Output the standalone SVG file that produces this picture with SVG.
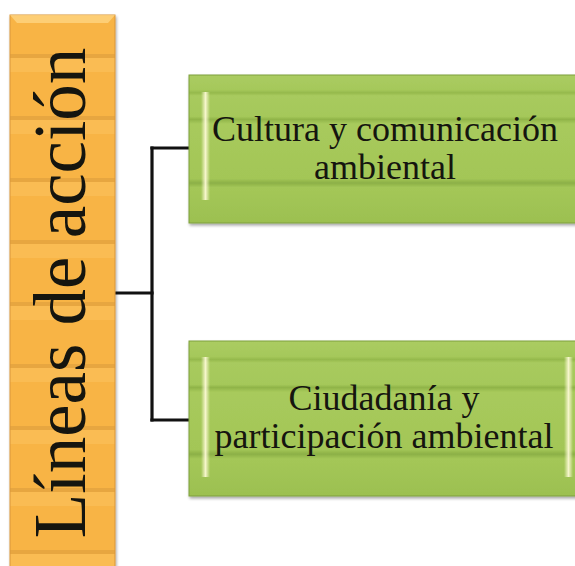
<svg xmlns="http://www.w3.org/2000/svg" width="575" height="566" viewBox="0 0 575 566">
<style>
.t{font-family:"Liberation Serif","Times New Roman",serif;fill:#15150f;}
.g{font-size:36px;text-anchor:middle;}
.o{font-size:73px;text-anchor:middle;}
.c{fill:none;stroke:#111;stroke-width:3.2;stroke-linecap:square;}
</style>
<defs>
<filter id="sh" x="-10%" y="-10%" width="120%" height="130%">
<feGaussianBlur in="SourceAlpha" stdDeviation="1.5"/>
<feOffset dx="1" dy="2" result="b"/>
<feComponentTransfer><feFuncA type="linear" slope="0.35"/></feComponentTransfer>
<feMerge><feMergeNode/><feMergeNode in="SourceGraphic"/></feMerge>
</filter>
<pattern id="ob" patternUnits="userSpaceOnUse" x="0" y="-4" width="120" height="62">
<rect width="120" height="62" fill="#f8b445"/>
<rect y="0" width="120" height="14" fill="#fbc25a" opacity="0.6"/>
<rect y="58" width="120" height="4" fill="#d99a3a" opacity="0.55"/>
</pattern>
<linearGradient id="gg" x1="0" y1="0" x2="0" y2="1">
<stop offset="0" stop-color="#abcc62"/>
<stop offset="0.1" stop-color="#a5c85a"/>
<stop offset="0.12" stop-color="#95b94c"/>
<stop offset="0.14" stop-color="#a8ca5e"/>
<stop offset="0.28" stop-color="#a5c85a"/>
<stop offset="0.3" stop-color="#90b448"/>
<stop offset="0.33" stop-color="#a8ca5c"/>
<stop offset="0.7" stop-color="#a3c657"/>
<stop offset="0.73" stop-color="#8cb046"/>
<stop offset="0.76" stop-color="#a4c758"/>
<stop offset="1" stop-color="#9cc050"/>
</linearGradient>
<linearGradient id="hl" x1="0" y1="0" x2="1" y2="0">
<stop offset="0" stop-color="#fffbd8" stop-opacity="0"/>
<stop offset="0.5" stop-color="#fffbd8" stop-opacity="0.9"/>
<stop offset="1" stop-color="#fffbd8" stop-opacity="0"/>
</linearGradient>
</defs>
<rect width="575" height="566" fill="#ffffff"/>
<g id="connectors">
<path class="c" d="M115,293 H152"/>
<path class="c" d="M152,148 V420"/>
<path class="c" d="M152,148 H189"/>
<path class="c" d="M152,420 H189"/>
</g>
<g id="lineas">
<rect x="10" y="15" width="105" height="560" fill="url(#ob)" stroke="#d9963a" stroke-width="1" filter="url(#sh)"/>
<path d="M10,15 H115 L108,23 H17 Z" fill="#ffd98a" opacity="0.7"/>
<text class="t o" transform="translate(85,293) rotate(-90)">Líneas de acción</text>
</g>
<g id="cultura">
<rect x="189" y="75" width="394" height="148" fill="url(#gg)" stroke="#7f9f3c" stroke-width="1" filter="url(#sh)"/>
<rect x="201" y="92" width="9" height="108" fill="url(#hl)"/>
<text class="t g" x="385" y="141">Cultura y comunicación</text>
<text class="t g" x="385" y="179">ambiental</text>
</g>
<g id="ciudadania">
<rect x="189" y="341" width="394" height="155" fill="url(#gg)" stroke="#7f9f3c" stroke-width="1" filter="url(#sh)"/>
<rect x="201" y="357" width="9" height="120" fill="url(#hl)"/>
<rect x="564" y="357" width="9" height="120" fill="url(#hl)"/>
<text class="t g" x="384" y="410">Ciudadanía y</text>
<text class="t g" x="384" y="448">participación ambiental</text>
</g>
</svg>
